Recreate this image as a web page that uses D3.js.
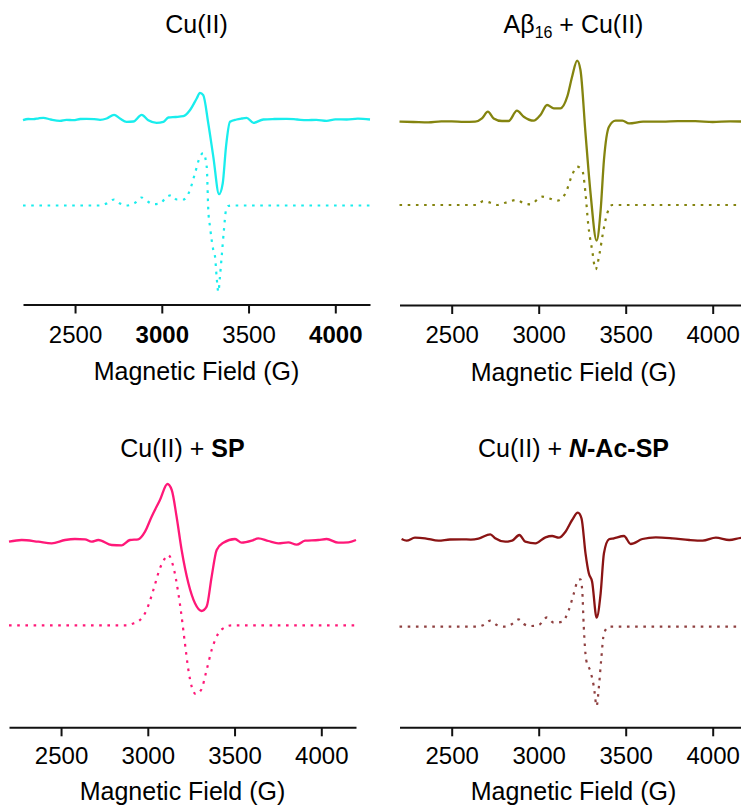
<!DOCTYPE html>
<html>
<head>
<meta charset="utf-8">
<script src="https://cdn.jsdelivr.net/npm/d3@7"></script>
<style>
  html, body { margin: 0; padding: 0; background: #fff; }
  svg { display: block; }
  text { font-family: "Liberation Sans", Arial, Helvetica, sans-serif; fill: #000; }
</style>
</head>
<body>
<svg id="chart" width="741" height="805"></svg>
<script>
// ---------------- DATA ----------------
const fieldDomain = [2200, 4200];
const tickValues = [2500, 3000, 3500, 4000];
const axisTitle = "Magnetic Field (G)";

// Cu(II) — experimental (solid) and simulated (dotted), [field G, intensity a.u.]
const cuExp = [[2200,-0.7],[2230,0.5],[2260,0.3],[2290,1.2],[2317,1.7],[2360,0],[2413,-1.3],[2450,-0.3],[2490,-0.7],[2530,0.5],[2567,0.7],[2610,0.4],[2644,-0.3],[2682,1],[2725,4.7],[2759,1],[2797,-2.3],[2836,-2],[2884,4.7],[2922,-0.7],[2970,-3.3],[3009,-2.3],[3038,2],[3080,2.5],[3124,3.3],[3162,9.3],[3201,21],[3220,26.7],[3239,24.3],[3268,-4],[3297,-37.3],[3330,-74.7],[3351,-64],[3370,-27.3],[3393,-2.3],[3431,0],[3460,1],[3489,1.7],[3528,-3.3],[3585,0],[3650,0.5],[3720,0.7],[3780,0],[3835,-0.7],[3890,-0.3],[3950,-1.3],[4000,0.2],[4066,0],[4130,0.8],[4200,0]];
const cuSim = [[2200,0],[2640,0],[2682,2],[2725,6],[2759,2],[2797,0],[2846,2.7],[2884,8],[2913,4.7],[2951,1.3],[2990,2],[3028,8.7],[3057,10.3],[3086,6],[3124,6],[3162,15.3],[3191,32],[3220,48.7],[3239,52.5],[3259,38.6],[3268,-4.7],[3278,-21.4],[3297,-44.7],[3307,-51.4],[3316,-71.4],[3326,-86.4],[3335,-71.4],[3345,-51.4],[3358,-24.7],[3370,-4.7],[3383,-0.5],[3412,0],[4200,0]];

// Abeta16 + Cu(II)
const abExp = [[2200,0],[2280,-0.3],[2366,-0.7],[2440,0.3],[2500,0.3],[2570,-0.2],[2635,0],[2674,3.3],[2708,10],[2741,3.3],[2789,0.7],[2827,0.7],[2875,11],[2914,5],[2971,1],[3010,6.7],[3048,16.7],[3087,13.3],[3125,13.3],[3164,25],[3192,45],[3221,61],[3240,51.7],[3269,-11.7],[3298,-71.7],[3333,-119],[3356,-88.3],[3375,-38.3],[3404,-5],[3442,1],[3481,1],[3519,-1.7],[3600,0],[3711,0],[3800,0.5],[3900,0.5],[4000,-0.3],[4100,0.4],[4200,0]];
const abSim = [[2200,0],[2640,0],[2683,4],[2722,2.3],[2760,0],[2808,2.3],[2875,5],[2914,1.7],[2952,0.7],[3019,8.3],[3058,6.7],[3106,4.3],[3154,11.7],[3192,30],[3221,38.3],[3250,35],[3269,11.7],[3284,-18.3],[3307,-45],[3327,-64.3],[3350,-48.3],[3369,-28.3],[3394,-8.3],[3423,0],[4200,0]];

// Cu(II) + SP
const spExp = [[2200,-0.7],[2273,1],[2369,-0.7],[2446,-2.3],[2523,1],[2580,2],[2638,1.7],[2676,-0.7],[2715,1],[2792,-4],[2849,-4.3],[2897,1],[2945,1.7],[2984,9.3],[3022,24.3],[3070,41],[3113,57],[3138,51],[3166,24.3],[3195,-9],[3234,-42.3],[3272,-62.3],[3310,-70],[3339,-65.7],[3368,-35.7],[3397,-9],[3435,-1.7],[3503,2],[3541,-1.7],[3599,0.3],[3637,2.7],[3695,0],[3752,-2.3],[3810,-1.3],[3858,-3.7],[3906,0.3],[3983,1],[4031,2],[4098,-1.7],[4156,-1.3],[4200,1]];
const spSim = [[2200,0],[2880,0],[2907,1.3],[2955,5.3],[2993,15.3],[3032,35.3],[3070,57],[3095,66],[3118,70.3],[3147,58.7],[3176,32],[3195,8.7],[3214,-18],[3234,-44.7],[3253,-61.3],[3276,-68.7],[3307,-64.7],[3339,-44.7],[3368,-24.7],[3407,-8],[3445,-2],[3483,0],[4200,0]];

// Cu(II) + N-Ac-SP
const nacExp = [[2212,0],[2241,-1.7],[2289,1.3],[2347,0.7],[2424,-1.7],[2490,-0.5],[2558,-0.3],[2610,-0.6],[2654,0.3],[2722,4.7],[2750,0.7],[2808,-2.7],[2847,-1.7],[2889,4],[2923,-2.7],[2981,-4.3],[3039,1.7],[3077,3],[3116,1.3],[3154,7.3],[3192,19],[3225,26.3],[3246,20.7],[3269,-14.3],[3288,-34.3],[3307,-42.7],[3333,-78.7],[3356,-54.3],[3375,-14.3],[3404,-0.3],[3432,0.7],[3490,3],[3529,-5],[3596,0],[3673,1.7],[3769,0.7],[3865,-1],[3942,-1.7],[4018,1.3],[4095,-1],[4172,1.3],[4200,1]];
const nacSim = [[2200,0],[2640,0],[2683,1.7],[2722,6],[2760,1.7],[2808,0],[2847,2.7],[2885,7.3],[2914,2.7],[2952,0.7],[3000,1.7],[3048,9.3],[3087,4],[3135,5],[3173,16.7],[3202,33.3],[3227,46.7],[3240,47.3],[3250,36.7],[3259,0],[3273,-33.3],[3298,-45],[3317,-60],[3333,-79.3],[3346,-60],[3359,-33.3],[3375,-6.7],[3404,0],[4200,0]];

// ---------------- LAYOUT ----------------
const panels = [
  { title: [{t:"Cu(II)"}], solid: cuExp, dotted: cuSim,
    color: "#19eded", dotColor: "#19eded",
    left: 23, right: 370, axisY: 304.5, top: 60, yMin: -185, yMax: 59.5, simOffset: -86,
    titleY: 33, tickDy: 38, labelDy: 75.5, boldTicks: [3000, 4000] },
  { title: [{t:"A\u03B2"},{t:"16", sub:true},{t:" + Cu(II)"}], solid: abExp, dotted: abSim,
    color: "#84840f", dotColor: "#84840f",
    left: 399.5, right: 747.5, axisY: 305, top: 60, yMin: -183.3, yMax: 61.7, simOffset: -83.3,
    titleY: 33, tickDy: 38, labelDy: 75.5, boldTicks: [] },
  { title: [{t:"Cu(II) + "},{t:"SP", bold:true}], solid: spExp, dotted: spSim,
    color: "#ff1878", dotColor: "#ff1878",
    left: 9, right: 356, axisY: 727.3, top: 480, yMin: -186.3, yMax: 61, simOffset: -84.3,
    titleY: 457, tickDy: 36.5, labelDy: 73, boldTicks: [] },
  { title: [{t:"Cu(II) + "},{t:"N", bold:true, italic:true},{t:"-Ac-SP", bold:true}], solid: nacExp, dotted: nacSim,
    color: "#8a1414", dotColor: "#8f4040",
    left: 399.5, right: 747.5, axisY: 727.3, top: 480, yMin: -188.3, yMax: 59, simOffset: -87.7,
    titleY: 457, tickDy: 36.5, labelDy: 73, boldTicks: [] }
];

const svg = d3.select("#chart");

panels.forEach(p => {
  const g = svg.append("g");
  const x = d3.scaleLinear().domain(fieldDomain).range([p.left, p.right]);
  const y = d3.scaleLinear().domain([p.yMin, p.yMax]).range([p.axisY, p.top]);
  const cx = (p.left + p.right) / 2;

  // Title
  const tt = g.append("text").attr("x", cx).attr("y", p.titleY)
    .attr("text-anchor", "middle").style("font-size", "25px");
  p.title.forEach((seg, i) => {
    const ts = tt.append("tspan").text(seg.t);
    if (seg.bold) ts.style("font-weight", "bold");
    if (seg.italic) ts.style("font-style", "italic");
    if (seg.sub) ts.style("font-size", "16px").attr("dy", 5);
    else if (i > 0 && p.title[i-1].sub) ts.attr("dy", -5);
  });

  // Lines
  const line = d3.line().x(d => x(d[0])).y(d => y(d[1])).curve(d3.curveMonotoneX);
  const lineSim = d3.line().x(d => x(d[0])).y(d => y(d[1] + p.simOffset)).curve(d3.curveMonotoneX);

  g.append("path").datum(p.dotted).attr("d", lineSim)
    .attr("fill", "none").attr("stroke", p.dotColor).attr("stroke-width", 2.2)
    .attr("stroke-dasharray", "2.6,5.6");
  g.append("path").datum(p.solid).attr("d", line)
    .attr("fill", "none").attr("stroke", p.color).attr("stroke-width", 2.3)
    .attr("stroke-linejoin", "round");

  // Axis
  const ax = g.append("g").attr("transform", `translate(0,${p.axisY})`)
    .call(d3.axisBottom(x).tickValues(tickValues).tickSize(9).tickSizeOuter(0).tickFormat(d3.format("d")));
  ax.select(".domain").attr("stroke", "#111").attr("stroke-width", 2);
  ax.selectAll(".tick line").attr("stroke", "#111").attr("stroke-width", 2);
  ax.selectAll(".tick text").attr("y", p.tickDy).attr("dy", 0)
    .attr("fill", "#000")
    .style("font-size", "24px")
    .style("font-family", "\"Liberation Sans\", Arial, sans-serif")
    .style("font-weight", d => p.boldTicks.includes(d) ? "bold" : "normal");

  g.append("text").attr("x", cx).attr("y", p.axisY + p.labelDy)
    .attr("text-anchor", "middle").style("font-size", "25px").text(axisTitle);
});
</script>
</body>
</html>
